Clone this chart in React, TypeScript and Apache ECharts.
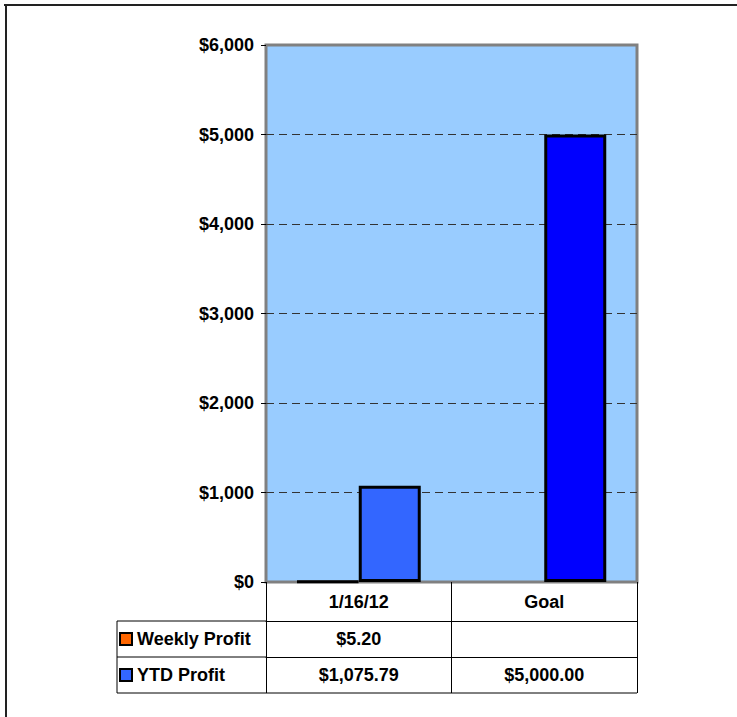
import React, { useEffect, useRef } from "react";
import * as echarts from "echarts";

const categories = ["1/16/12", "Goal"];
const weeklyProfit: (number | null)[] = [5.2, null];
const ytdProfit: number[] = [1075.79, 5000];
const ytdColors = ["#3366FF", "#0000FF"];
const seriesNames = ["Weekly Profit", "YTD Profit"];
const seriesColors = ["#FF6600", "#3366FF"];
const yTicks = { min: 0, max: 6000, interval: 1000 };

const FONT = "'Liberation Sans', Arial, sans-serif";

const money = (v: number | null) =>
  v == null
    ? ""
    : "$" + v.toLocaleString("en-US", { minimumFractionDigits: 2, maximumFractionDigits: 2 });

export default function App() {
  const ref = useRef<HTMLDivElement>(null);
  useEffect(() => {
    if (!ref.current) return;
    const chart = echarts.init(ref.current, undefined, { renderer: "svg" });
    const G = { left: 266, top: 45, width: 371, height: 537 };
    const bottom = G.top + G.height;
    const row0 = 39;
    const rowH = 36;
    const tableLeft = 117;
    const labelStyle = { fontFamily: FONT, fontSize: 18, fontWeight: "bold" as const, color: "#000" };
    const mkAxis = (offset: number, tickLen: number, fmt: (i: number) => string, showLine: boolean) => ({
      type: "category" as const,
      gridIndex: 0,
      position: "bottom" as const,
      offset,
      data: categories,
      axisLine: { show: showLine, lineStyle: { color: "#000", width: 1 } },
      axisTick: { show: true, length: tickLen, lineStyle: { color: "#000", width: 1 } },
      axisLabel: {
        ...labelStyle,
        margin: Math.round(tickLen / 2) - 9,
        formatter: (_v: string, i: number) => fmt(i),
      },
      splitLine: { show: false },
    });
    chart.setOption({
      animation: false,
      backgroundColor: "#fff",
      grid: {
        ...G,
        show: true,
        backgroundColor: "#99CCFF",
        borderColor: "#808080",
        borderWidth: 3,
        containLabel: false,
      },
      xAxis: [
        mkAxis(0, row0, (i) => categories[i], false),
        mkAxis(row0, rowH, (i) => money(weeklyProfit[i]), true),
        mkAxis(row0 + rowH, rowH, (i) => money(ytdProfit[i]), true),
      ],
      yAxis: {
        type: "value",
        ...yTicks,
        axisLine: { show: false },
        axisTick: { show: true, length: 5, lineStyle: { color: "#000", width: 1 } },
        axisLabel: {
          ...labelStyle,
          margin: 12,
          formatter: (v: number) => "$" + v.toLocaleString("en-US"),
        },
        splitLine: {
          show: true,
          showMinLine: false,
          showMaxLine: false,
          lineStyle: { color: "#333", width: 1, type: [8, 5] },
        },
      },
      series: [
        {
          name: seriesNames[0],
          type: "bar",
          xAxisIndex: 0,
          data: weeklyProfit,
          barWidth: 62,
          barGap: "0%",
          itemStyle: { color: seriesColors[0], borderColor: "#000", borderWidth: 3 },
        },
        {
          name: seriesNames[1],
          type: "bar",
          xAxisIndex: 0,
          data: ytdProfit.map((v, i) => ({ value: v, itemStyle: { color: ytdColors[i] } })),
          barWidth: 62,
          barGap: "0%",
          itemStyle: { color: seriesColors[1], borderColor: "#000", borderWidth: 3 },
        },
      ],
      graphic: [
        { type: "line", shape: { x1: 4, y1: 5, x2: 737, y2: 5 }, style: { stroke: "#222", lineWidth: 2 } },
        { type: "line", shape: { x1: 6, y1: 5, x2: 6, y2: 717 }, style: { stroke: "#222", lineWidth: 2 } },
        { type: "line", shape: { x1: tableLeft, y1: bottom + row0, x2: G.left, y2: bottom + row0 }, style: { stroke: "#000", lineWidth: 1 } },
        { type: "line", shape: { x1: tableLeft, y1: bottom + row0 + rowH, x2: G.left, y2: bottom + row0 + rowH }, style: { stroke: "#000", lineWidth: 1 } },
        { type: "line", shape: { x1: tableLeft, y1: bottom + row0 + 2 * rowH, x2: G.left + G.width, y2: bottom + row0 + 2 * rowH }, style: { stroke: "#000", lineWidth: 1 } },
        { type: "line", shape: { x1: tableLeft, y1: bottom + row0, x2: tableLeft, y2: bottom + row0 + 2 * rowH }, style: { stroke: "#000", lineWidth: 1 } },
        ...seriesNames.flatMap((name, k) => {
          const cy = bottom + row0 + rowH * k + rowH / 2;
          return [
            { type: "rect", shape: { x: 120, y: cy - 6, width: 12, height: 12 }, style: { fill: seriesColors[k], stroke: "#000", lineWidth: 2 } },
            { type: "text", x: 137, y: cy, style: { text: name, fill: "#000", font: `bold 18px ${FONT}`, textVerticalAlign: "middle", textAlign: "left" } },
          ];
        }),
      ],
    });
    return () => chart.dispose();
  }, []);
  return (
    <div
      ref={ref}
      style={{ position: "fixed", left: 0, top: 0, width: 737, height: 717 }}
    />
  );
}
